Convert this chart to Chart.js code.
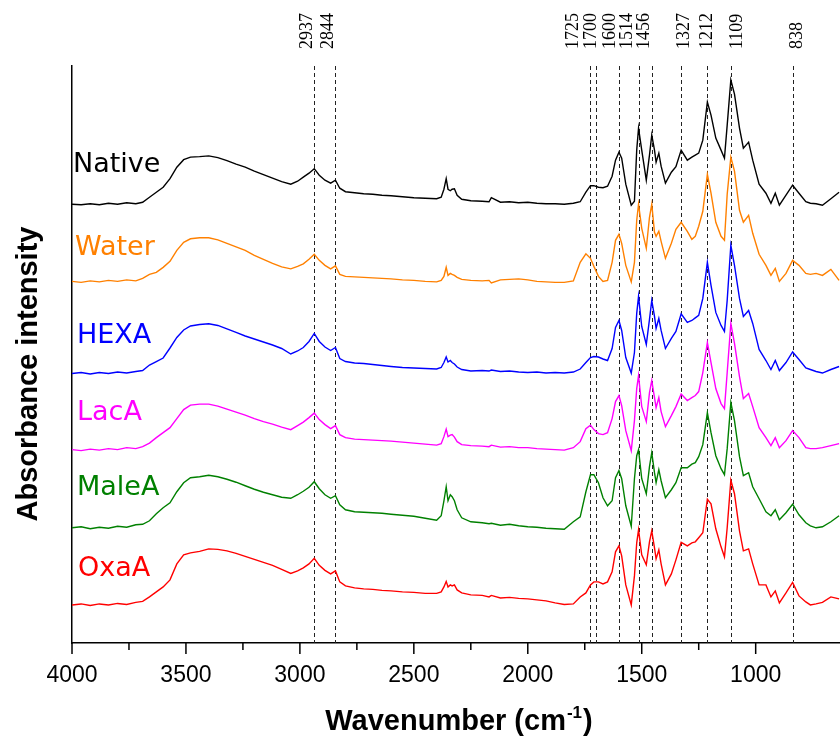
<!DOCTYPE html>
<html>
<head>
<meta charset="utf-8">
<script src="https://cdn.jsdelivr.net/npm/chart.js@4.4.1/dist/chart.umd.min.js"></script>
<style>
  html, body { margin: 0; padding: 0; background: #fff; }
  #ftir { display: block; }
</style>
</head>
<body>
<canvas id="ftir" width="840" height="740"></canvas>
<script>
// wavenumber grid (cm-1), shared by every spectrum
const wavenumbers = [
  4000, 3960, 3920, 3880, 3840, 3800, 3760, 3720, 3690, 3660,
  3630, 3600, 3570, 3540, 3510, 3480, 3440, 3400, 3360, 3320,
  3280, 3240, 3200, 3160, 3120, 3080, 3040, 3010, 2985, 2960,
  2937, 2915, 2890, 2865, 2844, 2825, 2800, 2760, 2720, 2680,
  2640, 2600, 2550, 2500, 2450, 2400, 2380, 2368, 2358, 2350,
  2340, 2332, 2322, 2310, 2290, 2250, 2200, 2170, 2160, 2120,
  2080, 2040, 2000, 1960, 1920, 1880, 1840, 1800,
  1770, 1745, 1725, 1710, 1690, 1670, 1650, 1630, 1615, 1600,
  1588, 1570, 1546, 1532, 1522, 1514, 1500, 1480, 1466, 1456,
  1444, 1437, 1425, 1415, 1396, 1370, 1350, 1327, 1300, 1280,
  1265, 1250, 1232, 1212, 1196, 1175, 1152, 1137, 1125, 1109,
  1093, 1071, 1054, 1031, 1013, 985, 955, 933, 914, 896,
  867, 838, 810, 780, 760, 735, 707, 670, 634
];

// stacked absorbance (a.u., offset per sample)
const native = [
  4.38, 4.375, 4.385, 4.375, 4.39, 4.38, 4.395, 4.385, 4.40, 4.45,
  4.50, 4.55, 4.635, 4.75, 4.825, 4.85, 4.855, 4.863, 4.845, 4.815,
  4.78, 4.75, 4.71, 4.675, 4.64, 4.605, 4.58, 4.61, 4.65, 4.69,
  4.735, 4.67, 4.62, 4.59, 4.62, 4.54, 4.505, 4.495, 4.485, 4.48,
  4.47, 4.465, 4.455, 4.445, 4.44, 4.435, 4.45, 4.53, 4.635, 4.53,
  4.515, 4.53, 4.535, 4.47, 4.43, 4.415, 4.41, 4.405, 4.445, 4.40,
  4.405, 4.395, 4.40, 4.39, 4.385, 4.385, 4.38, 4.39,
  4.405, 4.50, 4.565, 4.565, 4.55, 4.545, 4.56, 4.66, 4.82, 4.90,
  4.84, 4.58, 4.37, 4.41, 4.92, 5.14, 4.92, 4.62, 4.87, 5.07,
  4.92, 4.80, 4.89, 4.76, 4.59, 4.70, 4.755, 4.92, 4.82, 4.85,
  4.87, 4.89, 5.02, 5.40, 5.27, 5.04, 4.92, 4.84, 5.17, 5.62,
  5.48, 5.14, 4.94, 5.00, 4.82, 4.58, 4.49, 4.39, 4.49, 4.37,
  4.47, 4.57, 4.49, 4.405, 4.39, 4.385, 4.37, 4.435, 4.50
];
const water = [
  3.61, 3.60, 3.615, 3.605, 3.62, 3.61, 3.625, 3.615, 3.64, 3.68,
  3.70, 3.75, 3.81, 3.92, 4.00, 4.035, 4.045, 4.045, 4.025, 3.99,
  3.955, 3.92, 3.87, 3.83, 3.79, 3.755, 3.735, 3.76, 3.785, 3.83,
  3.88, 3.82, 3.77, 3.735, 3.765, 3.68, 3.66, 3.655, 3.65, 3.645,
  3.64, 3.635, 3.625, 3.62, 3.61, 3.605, 3.62, 3.66, 3.75, 3.67,
  3.69, 3.68, 3.67, 3.65, 3.63, 3.62, 3.615, 3.62, 3.595, 3.625,
  3.63, 3.635, 3.625, 3.61, 3.605, 3.60, 3.60, 3.615,
  3.80, 3.885, 3.84, 3.76, 3.66, 3.61, 3.62, 3.80, 4.02, 4.08,
  3.99, 3.77, 3.605, 3.80, 4.22, 4.38, 4.14, 3.94, 4.25, 4.38,
  4.10, 4.06, 4.11, 4.01, 3.84, 3.99, 4.13, 4.20, 4.11, 4.03,
  4.06, 4.16, 4.31, 4.68, 4.49, 4.20, 4.06, 4.02, 4.48, 4.85,
  4.71, 4.32, 4.20, 4.27, 4.09, 3.88, 3.77, 3.67, 3.74, 3.61,
  3.69, 3.82, 3.77, 3.69, 3.68, 3.69, 3.67, 3.73, 3.62
];
const hexa = [
  2.69, 2.70, 2.685, 2.70, 2.69, 2.705, 2.695, 2.71, 2.72, 2.775,
  2.81, 2.845, 2.945, 3.05, 3.125, 3.165, 3.18, 3.187, 3.17, 3.135,
  3.10, 3.065, 3.035, 3.005, 2.975, 2.94, 2.885, 2.915, 2.95, 3.01,
  3.09, 3.01, 2.955, 2.92, 2.95, 2.84, 2.81, 2.795, 2.79, 2.78,
  2.77, 2.76, 2.75, 2.745, 2.74, 2.735, 2.75, 2.80, 2.855, 2.805,
  2.82, 2.80, 2.785, 2.755, 2.73, 2.715, 2.72, 2.715, 2.725, 2.71,
  2.715, 2.705, 2.70, 2.705, 2.695, 2.70, 2.695, 2.705,
  2.735, 2.80, 2.85, 2.86, 2.855, 2.835, 2.82, 2.94, 3.15, 3.22,
  3.12, 2.85, 2.695, 2.90, 3.29, 3.46, 3.16, 2.98, 3.23, 3.42,
  3.26, 3.14, 3.24, 3.12, 2.94, 3.04, 3.11, 3.285, 3.20, 3.22,
  3.245, 3.27, 3.44, 3.80, 3.57, 3.30, 3.17, 3.11, 3.42, 3.97,
  3.77, 3.44, 3.26, 3.32, 3.19, 2.93, 2.82, 2.73, 2.82, 2.72,
  2.80, 2.905, 2.83, 2.745, 2.73, 2.71, 2.695, 2.73, 2.76
];
const lacA = [
  1.93, 1.92, 1.935, 1.925, 1.94, 1.93, 1.95, 1.94, 1.96, 1.995,
  2.05, 2.10, 2.15, 2.24, 2.33, 2.375, 2.385, 2.385, 2.365, 2.335,
  2.305, 2.275, 2.24, 2.21, 2.185, 2.155, 2.13, 2.17, 2.205, 2.25,
  2.295, 2.23, 2.18, 2.14, 2.17, 2.08, 2.05, 2.035, 2.03, 2.025,
  2.02, 2.015, 2.005, 1.995, 1.985, 1.975, 1.99, 2.06, 2.135, 2.06,
  2.075, 2.08, 2.055, 2.01, 1.98, 1.97, 1.965, 1.96, 1.975, 1.955,
  1.96, 1.95, 1.95, 1.94, 1.935, 1.93, 1.925, 1.95,
  2.01, 2.14, 2.175, 2.13, 2.09, 2.08, 2.10, 2.24, 2.41, 2.47,
  2.37, 2.12, 1.92, 2.22, 2.54, 2.67, 2.36, 2.21, 2.50, 2.62,
  2.45, 2.35, 2.45, 2.31, 2.16, 2.27, 2.36, 2.485, 2.42, 2.45,
  2.47, 2.51, 2.70, 3.00, 2.80, 2.54, 2.39, 2.34, 2.70, 3.19,
  2.99, 2.66, 2.44, 2.49, 2.36, 2.15, 2.05, 1.97, 2.05, 1.95,
  2.02, 2.12, 2.05, 1.95, 1.94, 1.94, 1.95, 1.97, 1.99
];
const maleA = [
  1.15, 1.16, 1.14, 1.155, 1.145, 1.165, 1.155, 1.18, 1.185, 1.22,
  1.29, 1.35, 1.40, 1.51, 1.60, 1.65, 1.66, 1.675, 1.66, 1.635,
  1.605, 1.57, 1.535, 1.505, 1.48, 1.455, 1.445, 1.48, 1.515, 1.555,
  1.61, 1.54, 1.48, 1.445, 1.47, 1.38, 1.33, 1.31, 1.305, 1.30,
  1.295, 1.285, 1.275, 1.265, 1.245, 1.225, 1.27, 1.42, 1.56, 1.42,
  1.48, 1.46, 1.42, 1.33, 1.25, 1.21, 1.20, 1.19, 1.195, 1.175,
  1.185, 1.17, 1.16, 1.155, 1.145, 1.14, 1.135, 1.21,
  1.26, 1.51, 1.68, 1.68, 1.60, 1.45, 1.37, 1.42, 1.65, 1.72,
  1.64, 1.37, 1.165, 1.64, 1.87, 1.93, 1.64, 1.49, 1.76, 1.90,
  1.70, 1.60, 1.73, 1.62, 1.45, 1.53, 1.60, 1.75, 1.75, 1.785,
  1.80, 1.86, 1.98, 2.30, 2.10, 1.87, 1.74, 1.68, 1.94, 2.40,
  2.22, 1.86, 1.67, 1.70, 1.56, 1.44, 1.31, 1.27, 1.33, 1.23,
  1.30, 1.385, 1.28, 1.20, 1.17, 1.15, 1.16, 1.21, 1.27
];
const oxaA = [
  0.38, 0.39, 0.375, 0.39, 0.38, 0.395, 0.385, 0.405, 0.415, 0.46,
  0.51, 0.56, 0.63, 0.79, 0.88, 0.90, 0.915, 0.94, 0.935, 0.92,
  0.895, 0.865, 0.835, 0.805, 0.775, 0.735, 0.695, 0.72, 0.75, 0.79,
  0.845, 0.775, 0.725, 0.69, 0.72, 0.61, 0.57, 0.55, 0.54, 0.535,
  0.525, 0.52, 0.51, 0.505, 0.495, 0.495, 0.51, 0.56, 0.615, 0.56,
  0.58, 0.57, 0.58, 0.53, 0.50, 0.48, 0.475, 0.46, 0.475, 0.45,
  0.455, 0.445, 0.44, 0.43, 0.42, 0.40, 0.385, 0.39,
  0.46, 0.50, 0.58, 0.61, 0.61, 0.59, 0.61, 0.71, 0.91, 0.97,
  0.87, 0.58, 0.38, 0.67, 1.00, 1.13, 0.88, 0.78, 1.01, 1.12,
  0.95, 0.84, 0.93, 0.79, 0.58, 0.69, 0.83, 1.005, 0.97, 1.00,
  1.01, 1.05, 1.10, 1.435, 1.39, 1.14, 0.96, 0.86, 1.15, 1.625,
  1.49, 1.12, 0.92, 0.94, 0.79, 0.58, 0.58, 0.46, 0.52, 0.40,
  0.50, 0.605, 0.47, 0.41, 0.38, 0.39, 0.405, 0.46, 0.44
];

const sampleNames = ['Native', 'Water', 'HEXA', 'LacA', 'MaleA', 'OxaA'];
const sampleColors = ['#000000', '#FF8000', '#0000FF', '#FF00FF', '#008000', '#FF0000'];
const spectra = [native, water, hexa, lacA, maleA, oxaA];

// band positions marked with dashed guides
const peakMarks = [2937, 2844, 1725, 1700, 1600, 1514, 1456, 1327, 1212, 1109, 838];

// label nudges (px) so the crowded band labels don't collide
const peakLabelShift = [-7, -7, -17, -5, -9, -11, -7, 3, 0, 6, 5];
const nameBaseline = [172, 255, 343, 420, 495, 576];
const nameLeft = [73, 75, 77, 77, 77, 78];

const annotate = {
  id: 'annotate',
  beforeDatasetsDraw(chart) {
    const { ctx, chartArea, scales: { x } } = chart;
    ctx.save();
    ctx.strokeStyle = '#222';
    ctx.lineWidth = 1;
    ctx.setLineDash([4, 3]);
    peakMarks.forEach(w => {
      const px = Math.round(x.getPixelForValue(w)) + 0.5;
      ctx.beginPath();
      ctx.moveTo(px, chartArea.top);
      ctx.lineTo(px, chartArea.bottom);
      ctx.stroke();
    });
    ctx.restore();
  },
  afterDraw(chart) {
    const { ctx, chartArea, scales: { x } } = chart;
    ctx.save();

    // outward tick marks, long at labelled values
    ctx.strokeStyle = '#000';
    ctx.lineWidth = 1.5;
    x.ticks.forEach(t => {
      if (t.value % 250 !== 0) return;
      const px = x.getPixelForValue(t.value);
      const len = t.value % 500 === 0 ? 11 : 7;
      ctx.beginPath();
      ctx.moveTo(px, chartArea.bottom);
      ctx.lineTo(px, chartArea.bottom + len);
      ctx.stroke();
    });

    // band labels, vertical
    ctx.fillStyle = '#000';
    ctx.font = '18px "Liberation Serif"';
    ctx.textAlign = 'left';
    ctx.textBaseline = 'middle';
    peakMarks.forEach((w, i) => {
      ctx.save();
      ctx.translate(x.getPixelForValue(w) + peakLabelShift[i], 49);
      ctx.rotate(-Math.PI / 2);
      ctx.fillText(String(w), 0, 0);
      ctx.restore();
    });

    // sample names
    ctx.font = '27px "DejaVu Sans"';
    ctx.textBaseline = 'alphabetic';
    sampleNames.forEach((name, i) => {
      ctx.fillStyle = sampleColors[i];
      ctx.fillText(name, nameLeft[i], nameBaseline[i]);
    });

    // axis titles
    ctx.fillStyle = '#000';
    const main = 'Wavenumber (cm', sup = '-1', tail = ')';
    ctx.font = 'bold 29px "Liberation Sans"';
    const w1 = ctx.measureText(main).width;
    const w3 = ctx.measureText(tail).width;
    ctx.font = 'bold 17px "Liberation Sans"';
    const w2 = ctx.measureText(sup).width;
    let sx = (chartArea.left + chartArea.right) / 2 + 2 - (w1 + w2 + w3) / 2;
    ctx.font = 'bold 29px "Liberation Sans"';
    ctx.fillText(main, sx, 730);
    ctx.font = 'bold 17px "Liberation Sans"';
    ctx.fillText(sup, sx + w1 + 1, 718);
    ctx.font = 'bold 29px "Liberation Sans"';
    ctx.fillText(tail, sx + w1 + w2 + 2, 730);

    ctx.save();
    ctx.translate(37, 374);
    ctx.rotate(-Math.PI / 2);
    ctx.textAlign = 'center';
    ctx.fillText('Absorbance intensity', 0, 0);
    ctx.restore();

    ctx.restore();
  }
};

const ctx = document.getElementById('ftir').getContext('2d');
const ftirChart = new Chart(ctx, {
  type: 'line',
  data: {
    datasets: spectra.map((vals, i) => ({
      label: sampleNames[i],
      data: wavenumbers.map((w, j) => ({ x: w, y: vals[j] })),
      borderColor: sampleColors[i],
      borderWidth: 1.4,
      pointRadius: 0,
      tension: 0,
      fill: false
    }))
  },
  options: {
    responsive: false,
    animation: false,
    layout: { padding: { top: 66, right: 0, left: 0, bottom: 0 } },
    plugins: {
      legend: { display: false },
      title: { display: false },
      tooltip: { enabled: false }
    },
    scales: {
      x: {
        type: 'linear',
        reverse: true,
        min: 630,
        max: 4000,
        grid: { display: false, drawTicks: false },
        border: { display: true, color: '#000', width: 1.5 },
        ticks: {
          stepSize: 250,
          autoSkip: false,
          maxRotation: 0,
          padding: 19,
          color: '#000',
          font: { family: 'Liberation Sans', size: 23 },
          callback: v => (v % 500 === 0 ? String(v) : '')
        },
        afterFit: s => {
          s.height = 97;
          s.paddingLeft = 0;
          s.paddingRight = 0;
        }
      },
      y: {
        min: 0,
        max: 5.76,
        grid: { display: false, drawTicks: false },
        border: { display: true, color: '#000', width: 1.5 },
        ticks: { display: false },
        afterFit: s => { s.width = 72; }
      }
    }
  },
  plugins: [annotate]
});
</script>
</body>
</html>
